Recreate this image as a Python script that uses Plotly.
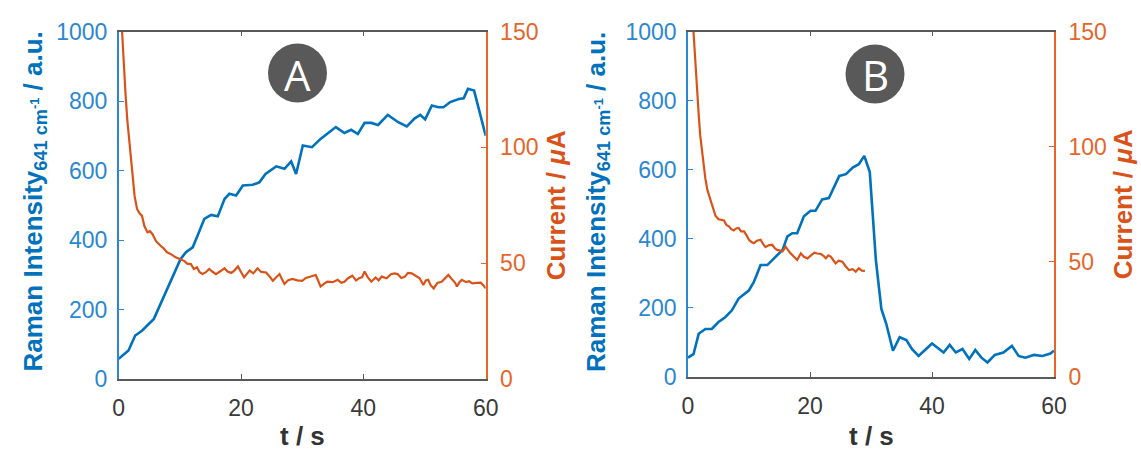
import plotly.graph_objects as go

# ---------------- data ----------------
# Panel A : Raman intensity (left axis, a.u.)
a_raman_t = [0, 1.6, 2.7, 3.8, 5.75, 6.85, 7.9, 9, 10.1, 11, 12.1, 12.9, 14, 15.1, 16.2, 17.3, 18.1,
             19.2, 20.3, 21.9, 23, 24, 25.75, 27.1, 28.2, 29, 30.1, 31.6, 33, 35.5, 36.9, 38, 39.1,
             40.2, 41.3, 42.4, 44, 45.7, 47.1, 48.4, 49.3, 50.1, 51.2, 52.3, 53.1, 54.2, 55.6, 56.4,
             57.1, 58.1, 58.9, 60]
a_raman = [58, 82, 125, 139, 173, 216, 254, 302, 345, 365, 379, 413, 461, 472, 468, 518, 533,
           528, 557, 559, 566, 590, 612, 605, 626, 590, 672, 667, 691, 725, 708, 717, 705,
           737, 737, 731, 760, 739, 727, 750, 760, 747, 787, 782, 782, 797, 806, 808,
           835, 830, 777, 700]

# Panel A : current (right axis, uA)
a_cur_t = [0.55, 0.8, 1.1, 1.4, 1.64, 1.9, 2.2, 2.6, 3.0, 3.4, 3.8, 4.2, 4.7, 5.1, 5.5, 6.1, 6.8, 7.3,
           7.9, 8.6, 9.3, 10.0, 10.7, 11.2, 11.8, 12.3, 12.8, 13.2, 13.7, 14.2, 14.8, 15.3, 15.9,
           16.6, 17.3, 17.8, 18.4, 18.9, 19.5, 20.0, 20.5, 21.0, 21.4, 22.0, 22.7, 23.3, 24.1,
           24.6, 25.2, 25.8, 26.3, 26.7, 27.1, 27.7, 28.4, 29.2, 30.0, 30.6, 31.4, 32.2, 32.6,
           33.0, 33.6, 34.1, 35.0, 35.8, 36.4, 36.9, 37.5, 38.2, 38.8, 39.3, 39.8, 40.2, 40.7,
           41.3, 42.0, 42.5, 43.0, 43.8, 44.5, 45.1, 45.6, 46.2, 46.8, 47.3, 47.9, 48.5, 49.2,
           49.8, 50.2, 50.6, 51.0, 51.5, 52.1, 52.8, 53.4, 53.9, 54.5, 55.0, 55.3, 55.7, 56.1,
           56.8, 57.3, 57.8, 58.5, 59.2, 59.6, 60]
a_cur = [150, 135, 123.7, 112, 105, 96, 87.8, 79, 73.4, 71.5, 70.5, 66, 63.3, 63.8, 62.6, 59.5, 57.6,
         56.5, 54.7, 53.8, 52.5, 51.8, 51, 49.8, 49.6, 47.5, 48.2, 46.2, 45.3, 46.0, 47.5, 46.4,
         45.3, 46.5, 47.8, 46.4, 45.8, 46.8, 48.6, 46.2, 43.9, 45.5, 46.8, 45.6, 47.8, 46.2, 46,
         44.5, 42.4, 44.0, 45.3, 43.0, 41, 42.6, 43.2, 42.6, 42.4, 43.6, 44.2, 44.9, 42.5,
         39.9, 41.2, 42, 41.8, 42.8, 41.5, 42, 43.5, 44.6, 42.5, 43.5, 44.0, 46.4, 44.0,
         42, 43.8, 42.6, 44.2, 43.5, 45.2, 45.6, 45.3, 43.6, 44.2, 45.8, 45.6, 44.5, 43.5,
         40.6, 42.5, 42.8, 40.5, 39.1, 41.5, 42, 43.8, 44.9, 43.0, 41.5, 39.9, 41.8, 42.8,
         41.8, 42.2, 41.3, 41.5, 41.6, 40.5, 39.1]

# Panel B : Raman intensity
b_raman_t = [0, 0.9, 1.75, 2.85, 3.9, 5, 6.1, 7.2, 8.3, 10, 10.8, 11.9, 13, 14.4, 15.5, 16.3, 17.1,
             17.9, 19, 20.1, 20.9, 22, 23.1, 24.8, 25.9, 27, 28, 28.9, 29.8, 30.8, 31.7, 32.5,
             33.6, 34.7, 35.8, 36.7, 37.8, 40, 41.9, 42.9, 43.9, 45, 46.1, 47.1, 48.1, 49.1,
             50.3, 51.7, 53.1, 54.2, 55.3, 56.7, 58.1, 59.4, 60]
b_raman = [56, 66, 125, 139, 139, 159, 173, 193, 227, 251, 275, 324, 324, 348, 368, 407, 416,
           416, 465, 481, 481, 514, 518, 582, 587, 606, 616, 640, 593, 338, 197, 154,
           76, 115, 107, 81, 61, 97, 71, 93, 71, 81, 52, 78, 56, 42,
           64, 71, 90, 61, 56, 64, 61, 68, 76]

# Panel B : current
b_cur_t = [0.9, 1.2, 1.5, 1.75, 2.0, 2.4, 2.85, 3.2, 3.7, 4.1, 4.5, 5.0, 5.5, 5.9, 6.3, 6.7, 7.1, 7.5,
           7.9, 8.3, 8.7, 9.2, 9.6, 10.0, 10.4, 10.8, 11.3, 11.9, 12.3, 12.7, 13.2, 13.8, 14.2,
           14.6, 15.0, 15.5, 16.0, 16.4, 16.8, 17.3, 17.9, 18.5, 19.0, 19.6, 20.1, 20.7, 21.2,
           21.8, 22.2, 22.6, 23.0, 23.4, 23.8, 24.2, 24.7, 25.3, 25.8, 26.4, 27.0, 27.5, 28.0,
           28.5, 29.0]
b_cur = [150, 136, 124, 114, 105, 95, 86, 81, 77, 73, 70, 68.5, 68.3, 68, 66, 65.4, 64.2, 63.6,
         64.5, 64.7, 63.2, 63.2, 61.5, 59.6, 58.6, 58.1, 59.2, 59.6, 57.8, 56.4, 57.2, 57.4, 56.0,
         55.2, 55.0, 54.5, 56.6, 55.0, 53.7, 52.4, 50.8, 53.7, 52.2, 51.5, 52.8, 54, 53.6,
         53.4, 52.6, 51.5, 52.8, 52.3, 50.8, 49.3, 50.5, 50.1, 48.2, 46.4, 46.8, 45.7, 47.2,
         46.2, 46.1]

x_ticks = [0, 20, 40, 60]
raman_ticks = [0, 200, 400, 600, 800, 1000]
cur_ticks = [0, 50, 100, 150]
panel_labels = ["A", "B"]

# ---------------- style ----------------
W, H = 1141, 452
BLUE = "#0072BD"
BLUE_TXT = "#2a87d0"
ORANGE = "#D95319"
ORANGE_TXT = "#e5652b"
GRAY_AX = "#5a5a5a"
FONT = "Liberation Sans, Arial, sans-serif"


def px(x):
    return x / W


def py(y):
    return 1 - y / H


panels = [
    dict(x0=118.7, x1=485.7, y0=31.5, y1=379.0),
    dict(x0=688.0, x1=1054.0, y0=31.5, y1=377.0),
]

fig = go.Figure()
fig.add_trace(go.Scatter(x=a_raman_t, y=a_raman, mode="lines", line=dict(color=BLUE, width=2.6),
                         xaxis="x", yaxis="y", showlegend=False))
fig.add_trace(go.Scatter(x=a_cur_t, y=a_cur, mode="lines", line=dict(color=ORANGE, width=2.2),
                         xaxis="x", yaxis="y2", showlegend=False))
fig.add_trace(go.Scatter(x=b_raman_t, y=b_raman, mode="lines", line=dict(color=BLUE, width=2.6),
                         xaxis="x2", yaxis="y3", showlegend=False))
fig.add_trace(go.Scatter(x=b_cur_t, y=b_cur, mode="lines", line=dict(color=ORANGE, width=2.2),
                         xaxis="x2", yaxis="y4", showlegend=False))

tickfont_x = dict(family=FONT, size=23, color="#3a3a3a")


def xaxis_cfg(p, anchor):
    return dict(domain=[px(p["x0"]), px(p["x1"])], anchor=anchor, range=[0, 60],
                tickvals=x_ticks, ticks="inside", ticklen=5, tickwidth=1.3, tickcolor=GRAY_AX,
                showline=True, linecolor=GRAY_AX, linewidth=1.6, mirror="ticks",
                showgrid=False, zeroline=False, tickfont=tickfont_x, ticklabelstandoff=8,
                automargin=False, fixedrange=True)


def yleft_cfg(p, anchor):
    return dict(domain=[py(p["y1"]), py(p["y0"])], anchor=anchor, range=[0, 1000],
                tickvals=raman_ticks, ticks="inside", ticklen=5, tickwidth=1.3, tickcolor=BLUE_TXT,
                showline=True, linecolor=BLUE_TXT, linewidth=1.6, showgrid=False, zeroline=False,
                tickfont=dict(family=FONT, size=23, color=BLUE_TXT), ticklabelstandoff=5,
                automargin=False, fixedrange=True)


def yright_cfg(p, anchor, overlay):
    return dict(domain=[py(p["y1"]), py(p["y0"])], anchor=anchor, overlaying=overlay, side="right",
                range=[0, 150], tickvals=cur_ticks, ticks="inside", ticklen=5, tickwidth=1.3,
                tickcolor=ORANGE_TXT, showline=True, linecolor=ORANGE_TXT, linewidth=1.6,
                showgrid=False, zeroline=False,
                tickfont=dict(family=FONT, size=23, color=ORANGE_TXT), ticklabelstandoff=8,
                automargin=False, fixedrange=True)


fig.update_layout(
    width=W, height=H, margin=dict(l=0, r=0, t=0, b=0, pad=0, autoexpand=False),
    paper_bgcolor="white", plot_bgcolor="white",
    xaxis=xaxis_cfg(panels[0], "y"),
    xaxis2=xaxis_cfg(panels[1], "y3"),
    yaxis=yleft_cfg(panels[0], "x"),
    yaxis2=yright_cfg(panels[0], "x", "y"),
    yaxis3=yleft_cfg(panels[1], "x2"),
    yaxis4=yright_cfg(panels[1], "x2", "y3"),
)

raman_title = "Raman Intensity<sub>641 cm<sup>-1</sup></sub> / a.u."
cur_title = "Current / <i>\u03bc</i>A"
title_font_b = dict(family=FONT, size=26, color=BLUE)
title_font_o = dict(family=FONT, size=26, color=ORANGE)
title_font_x = dict(family=FONT, size=26, color="#333333")

annotations = []
shapes = []
left_title_x = [34.5, 598.0]
right_title_x = [556.0, 1123.0]
title_yc = [202.0, 202.0]
badge_c = [(297.5, 73.0), (875.0, 74.0)]
for i, p in enumerate(panels):
    yc = (p["y0"] + p["y1"]) / 2
    annotations.append(dict(text="<b>" + raman_title + "</b>", x=px(left_title_x[i]), y=py(title_yc[i]),
                            xref="paper", yref="paper", xanchor="center", yanchor="middle",
                            textangle=-90, showarrow=False, font=title_font_b))
    annotations.append(dict(text="<b>" + cur_title + "</b>", x=px(right_title_x[i]), y=py(yc),
                            xref="paper", yref="paper", xanchor="center", yanchor="middle",
                            textangle=-90, showarrow=False, font=title_font_o))
    xc = (p["x0"] + p["x1"]) / 2
    annotations.append(dict(text="<b>t / s</b>", x=px(xc), y=py(436), xref="paper", yref="paper",
                            xanchor="center", yanchor="middle", showarrow=False, font=title_font_x))
    cx, cy = badge_c[i]
    r = 29.5
    shapes.append(dict(type="circle", xref="paper", yref="paper",
                       x0=px(cx - r), x1=px(cx + r), y0=py(cy + r), y1=py(cy - r),
                       fillcolor="#595959", line=dict(width=0), layer="above"))
    annotations.append(dict(text=panel_labels[i], x=px(cx), y=py(cy + 1), xref="paper", yref="paper",
                            xanchor="center", yanchor="middle", showarrow=False,
                            font=dict(family="Open Sans, sans-serif", size=42, color="white")))

fig.update_layout(annotations=annotations, shapes=shapes)
fig.write_html("out.html", config={"displayModeBar": False, "staticPlot": False},
               post_script="document.body.style.margin='0';document.body.style.overflow='hidden';")
